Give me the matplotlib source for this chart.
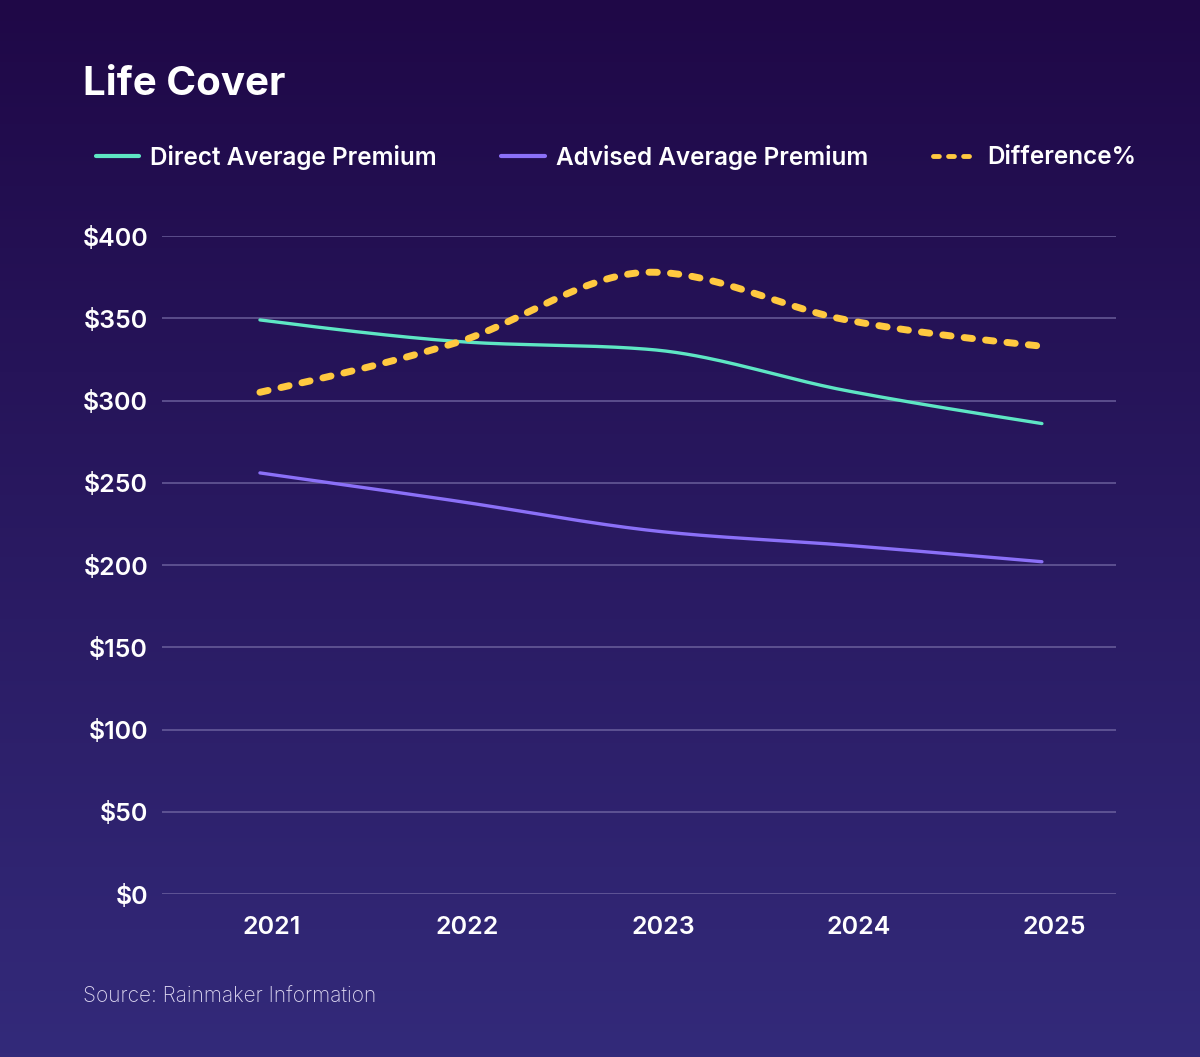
import numpy as np
import matplotlib
matplotlib.use("Agg")
import matplotlib.pyplot as plt
import matplotlib.transforms as mtransforms
from matplotlib.colors import LinearSegmentedColormap

plt.rcParams['font.family'] = ['Inter', 'DejaVu Sans']

# data
years = ['2021', '2022', '2023', '2024', '2025']
direct = [349, 336, 331, 306, 286]
advised = [256, 239, 221, 212, 202]
difference = [305, 335, 378, 349, 333]
yticks = [0, 50, 100, 150, 200, 250, 300, 350, 400]


def monotone(x, y, n=40):
    # d3 style monotoneX curve, only for drawing smooth lines
    x = np.asarray(x, float)
    y = np.asarray(y, float)
    h = np.diff(x)
    s = np.diff(y) / h
    t = np.zeros_like(y)
    for i in range(1, len(y) - 1):
        p = (s[i - 1] * h[i] + s[i] * h[i - 1]) / (h[i - 1] + h[i])
        t[i] = (np.sign(s[i - 1]) + np.sign(s[i])) * min(abs(s[i - 1]), abs(s[i]), 0.5 * abs(p))
    t[0] = (3 * s[0] - t[1]) / 2
    t[-1] = (3 * s[-1] - t[-2]) / 2
    xs, ys = [], []
    for i in range(len(h)):
        u = np.linspace(0, 1, n)
        h00 = 2 * u**3 - 3 * u**2 + 1
        h10 = u**3 - 2 * u**2 + u
        h01 = -2 * u**3 + 3 * u**2
        h11 = u**3 - u**2
        xs.append(x[i] + u * h[i])
        ys.append(h00 * y[i] + h10 * h[i] * t[i] + h01 * y[i + 1] + h11 * h[i] * t[i + 1])
    return np.concatenate(xs), np.concatenate(ys)


fig = plt.figure(figsize=(12, 10.57), dpi=100)

# background gradient
bg = fig.add_axes([0, 0, 1, 1], zorder=-10)
cmap = LinearSegmentedColormap.from_list('bg', ['#1f0847', '#332a7a'])
bg.imshow(np.linspace(0, 1, 256).reshape(-1, 1), aspect='auto', cmap=cmap,
          extent=[0, 1, 0, 1])
bg.axis('off')

ax = fig.add_axes([0.135, 0.1542, 0.795, 0.6225])
ax.set_facecolor('none')

xi = np.arange(len(years))
xd, yd = monotone(xi, direct)
xa, ya = monotone(xi, advised)
xf, yf = monotone(xi, difference)

l1, = ax.plot(xd, yd, color='#5ee6c4', lw=2.4, solid_capstyle='round',
              label='Direct Average Premium', zorder=3)
l2, = ax.plot(xa, ya, color='#8b70f8', lw=2.4, solid_capstyle='round',
              label='Advised Average Premium', zorder=3)
l3, = ax.plot(xf, yf, color='#ffc940', lw=5, dashes=(1.2, 1.9),
              dash_capstyle='round', label='Difference%', zorder=4)

ax.set_xlim(-0.501, 4.379)
ax.set_ylim(0, 400)
ax.set_yticks(yticks)
ax.set_yticklabels([f'${v}' for v in yticks])
ax.set_xticks(xi)
ax.set_xticklabels(years)
ax.grid(axis='y', color='#7a70aa', lw=1.1, alpha=0.8)
ax.set_axisbelow(True)
for sp in ax.spines.values():
    sp.set_visible(False)
ax.tick_params(length=0, labelcolor='white', labelsize=18)
ax.tick_params(axis='y', pad=10)
ax.tick_params(axis='x', pad=16)
for lab in ax.get_xticklabels() + ax.get_yticklabels():
    lab.set_fontweight('semibold')
offset = mtransforms.ScaledTranslation(0.12, 0, fig.dpi_scale_trans)
for lab in ax.get_xticklabels():
    lab.set_transform(lab.get_transform() + offset)

fig.text(83 / 1200, 1 - 95 / 1057, 'Life Cover', color='white', fontsize=29,
         fontweight='bold', ha='left', va='baseline')

leg = fig.legend(handles=[l1, l2, l3], loc='center left',
                 bbox_to_anchor=(86 / 1200, 1 - 157 / 1057), ncol=3,
                 frameon=False, fontsize=17.5, handlelength=1.8,
                 handletextpad=0.45, columnspacing=2.65, borderaxespad=0)
for txt in leg.get_texts():
    txt.set_color('white')
    txt.set_fontweight('semibold')
for h in leg.get_lines():
    h.set_linewidth(3)
leg.get_lines()[2].set_linewidth(3.5)

fig.text(83 / 1200, 1 - 997 / 1057, 'Source: Rainmaker Information',
         color='#dcd6f0', fontsize=15, fontweight='light', ha='left', va='center')

fig.savefig('out.png', dpi=100)
